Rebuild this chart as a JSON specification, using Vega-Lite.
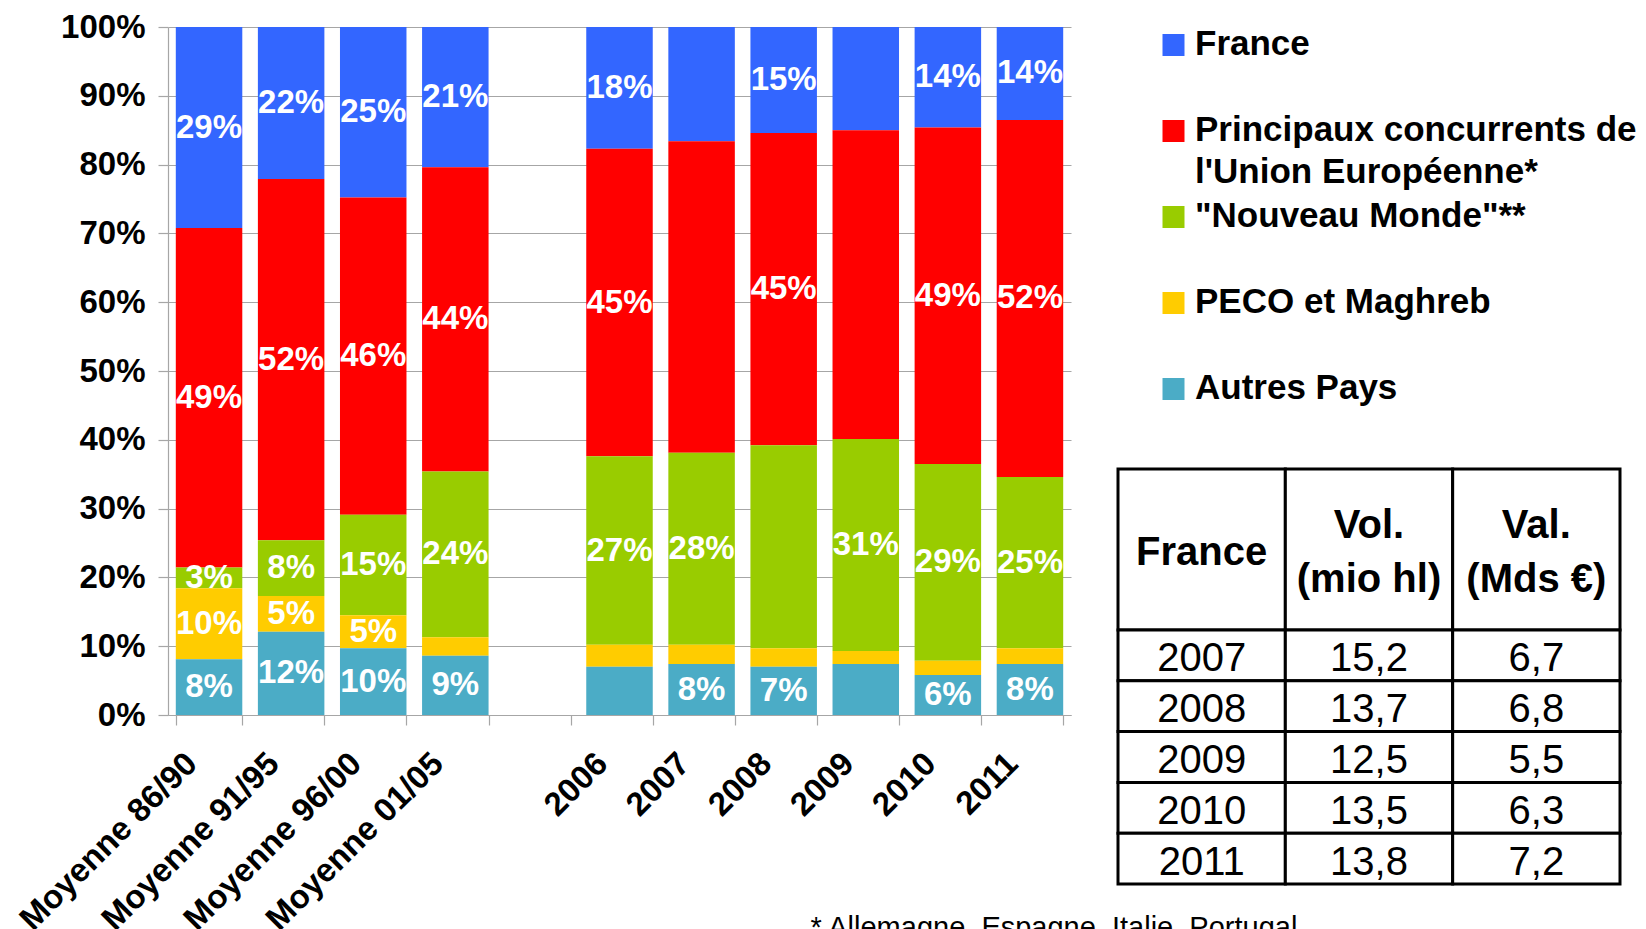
{
  "$schema": "https://vega.github.io/schema/vega-lite/v6.json",
  "padding": {"left": 14, "top": 11, "right": 0, "bottom": 0},
  "background": "white",
  "config": {
    "font": "Liberation Sans",
    "view": {"stroke": null},
    "locale": {"number": {"decimal": ",", "thousands": " ", "grouping": [3], "currency": ["", " €"]}}
  },
  "datasets": {
    "parts": [
      {"periode": "Moyenne 86/90", "serie": "France", "part": 0.292, "etiquette": 0.29},
      {"periode": "Moyenne 86/90", "serie": "Principaux concurrents de l'Union Européenne*", "part": 0.493, "etiquette": 0.49},
      {"periode": "Moyenne 86/90", "serie": "\"Nouveau Monde\"**", "part": 0.030, "etiquette": 0.03},
      {"periode": "Moyenne 86/90", "serie": "PECO et Maghreb", "part": 0.103, "etiquette": 0.10},
      {"periode": "Moyenne 86/90", "serie": "Autres Pays", "part": 0.081, "etiquette": 0.08},
      {"periode": "Moyenne 91/95", "serie": "France", "part": 0.221, "etiquette": 0.22},
      {"periode": "Moyenne 91/95", "serie": "Principaux concurrents de l'Union Européenne*", "part": 0.525, "etiquette": 0.52},
      {"periode": "Moyenne 91/95", "serie": "\"Nouveau Monde\"**", "part": 0.081, "etiquette": 0.08},
      {"periode": "Moyenne 91/95", "serie": "PECO et Maghreb", "part": 0.052, "etiquette": 0.05},
      {"periode": "Moyenne 91/95", "serie": "Autres Pays", "part": 0.121, "etiquette": 0.12},
      {"periode": "Moyenne 96/00", "serie": "France", "part": 0.248, "etiquette": 0.25},
      {"periode": "Moyenne 96/00", "serie": "Principaux concurrents de l'Union Européenne*", "part": 0.461, "etiquette": 0.46},
      {"periode": "Moyenne 96/00", "serie": "\"Nouveau Monde\"**", "part": 0.146, "etiquette": 0.15},
      {"periode": "Moyenne 96/00", "serie": "PECO et Maghreb", "part": 0.048, "etiquette": 0.05},
      {"periode": "Moyenne 96/00", "serie": "Autres Pays", "part": 0.097, "etiquette": 0.10},
      {"periode": "Moyenne 01/05", "serie": "France", "part": 0.204, "etiquette": 0.21},
      {"periode": "Moyenne 01/05", "serie": "Principaux concurrents de l'Union Européenne*", "part": 0.442, "etiquette": 0.44},
      {"periode": "Moyenne 01/05", "serie": "\"Nouveau Monde\"**", "part": 0.241, "etiquette": 0.24},
      {"periode": "Moyenne 01/05", "serie": "PECO et Maghreb", "part": 0.027, "etiquette": null},
      {"periode": "Moyenne 01/05", "serie": "Autres Pays", "part": 0.086, "etiquette": 0.09},
      {"periode": "2006", "serie": "France", "part": 0.177, "etiquette": 0.18},
      {"periode": "2006", "serie": "Principaux concurrents de l'Union Européenne*", "part": 0.447, "etiquette": 0.45},
      {"periode": "2006", "serie": "\"Nouveau Monde\"**", "part": 0.274, "etiquette": 0.27},
      {"periode": "2006", "serie": "PECO et Maghreb", "part": 0.032, "etiquette": null},
      {"periode": "2006", "serie": "Autres Pays", "part": 0.070, "etiquette": null},
      {"periode": "2007", "serie": "France", "part": 0.166, "etiquette": null},
      {"periode": "2007", "serie": "Principaux concurrents de l'Union Européenne*", "part": 0.453, "etiquette": null},
      {"periode": "2007", "serie": "\"Nouveau Monde\"**", "part": 0.279, "etiquette": 0.28},
      {"periode": "2007", "serie": "PECO et Maghreb", "part": 0.028, "etiquette": null},
      {"periode": "2007", "serie": "Autres Pays", "part": 0.074, "etiquette": 0.08},
      {"periode": "2008", "serie": "France", "part": 0.154, "etiquette": 0.15},
      {"periode": "2008", "serie": "Principaux concurrents de l'Union Européenne*", "part": 0.454, "etiquette": 0.45},
      {"periode": "2008", "serie": "\"Nouveau Monde\"**", "part": 0.295, "etiquette": null},
      {"periode": "2008", "serie": "PECO et Maghreb", "part": 0.027, "etiquette": null},
      {"periode": "2008", "serie": "Autres Pays", "part": 0.070, "etiquette": 0.07},
      {"periode": "2009", "serie": "France", "part": 0.150, "etiquette": null},
      {"periode": "2009", "serie": "Principaux concurrents de l'Union Européenne*", "part": 0.449, "etiquette": null},
      {"periode": "2009", "serie": "\"Nouveau Monde\"**", "part": 0.308, "etiquette": 0.31},
      {"periode": "2009", "serie": "PECO et Maghreb", "part": 0.019, "etiquette": null},
      {"periode": "2009", "serie": "Autres Pays", "part": 0.074, "etiquette": null},
      {"periode": "2010", "serie": "France", "part": 0.146, "etiquette": 0.14},
      {"periode": "2010", "serie": "Principaux concurrents de l'Union Européenne*", "part": 0.489, "etiquette": 0.49},
      {"periode": "2010", "serie": "\"Nouveau Monde\"**", "part": 0.286, "etiquette": 0.29},
      {"periode": "2010", "serie": "PECO et Maghreb", "part": 0.021, "etiquette": null},
      {"periode": "2010", "serie": "Autres Pays", "part": 0.058, "etiquette": 0.06},
      {"periode": "2011", "serie": "France", "part": 0.135, "etiquette": 0.14},
      {"periode": "2011", "serie": "Principaux concurrents de l'Union Européenne*", "part": 0.519, "etiquette": 0.52},
      {"periode": "2011", "serie": "\"Nouveau Monde\"**", "part": 0.249, "etiquette": 0.25},
      {"periode": "2011", "serie": "PECO et Maghreb", "part": 0.023, "etiquette": null},
      {"periode": "2011", "serie": "Autres Pays", "part": 0.074, "etiquette": 0.08}
    ],
    "legende": [
      {"serie": "France", "libelle": "France", "ordre": 5},
      {"serie": "Principaux concurrents de l'Union Européenne*", "libelle": "Principaux concurrents de\nl'Union Européenne*", "ordre": 4},
      {"serie": "\"Nouveau Monde\"**", "libelle": "\"Nouveau Monde\"**", "ordre": 3},
      {"serie": "PECO et Maghreb", "libelle": "PECO et Maghreb", "ordre": 2},
      {"serie": "Autres Pays", "libelle": "Autres Pays", "ordre": 1}
    ],
    "entetes": [
      {"entete": "France"},
      {"entete": "Vol.\n(mio hl)"},
      {"entete": "Val.\n(Mds €)"}
    ],
    "tableau": [
      {"annee": 2007, "volume": 15.2, "valeur": 6.7},
      {"annee": 2008, "volume": 13.7, "valeur": 6.8},
      {"annee": 2009, "volume": 12.5, "valeur": 5.5},
      {"annee": 2010, "volume": 13.5, "valeur": 6.3},
      {"annee": 2011, "volume": 13.8, "valeur": 7.2}
    ]
  },
  "bounds": "flush",
  "spacing": 47,
  "hconcat": [
    {
      "width": 903,
      "height": 688,
      "data": {"name": "parts"},
      "transform": [
        {"lookup": "serie", "from": {"data": {"name": "legende"}, "key": "serie", "fields": ["ordre"]}}
      ],
      "encoding": {
        "x": {
          "field": "periode", "type": "nominal",
          "scale": {"domain": ["Moyenne 86/90", "Moyenne 91/95", "Moyenne 96/00", "Moyenne 01/05", " ", "2006", "2007", "2008", "2009", "2010", "2011"], "paddingInner": 0.19, "paddingOuter": 0.095},
          "axis": {"title": null, "labelAngle": -45, "labelAlign": "right", "labelBaseline": "top", "labelFontSize": 33, "labelFontWeight": "bold", "labelColor": "black", "labelPadding": 22, "labelOffset": -29, "labelLimit": 500, "labelOverlap": false, "tickBand": "extent", "tickSize": 10, "tickColor": "#A6A6A6", "tickWidth": 1.2, "domainColor": "#A6A6A6", "domainWidth": 1.2, "grid": false}
        },
        "color": {
          "field": "serie", "type": "nominal",
          "scale": {"domain": ["France", "Principaux concurrents de l'Union Européenne*", "\"Nouveau Monde\"**", "PECO et Maghreb", "Autres Pays"], "range": ["#3366FF", "#FF0000", "#99CC00", "#FFCC00", "#4BACC6"]},
          "legend": null
        },
        "order": {"field": "ordre", "type": "quantitative", "sort": "ascending"}
      },
      "layer": [
        {
          "mark": {"type": "bar"},
          "encoding": {
            "y": {
              "field": "part", "type": "quantitative", "stack": "normalize",
              "scale": {"domain": [0, 1], "nice": false},
              "axis": {"title": null, "format": ".0%", "values": [0, 0.1, 0.2, 0.3, 0.4, 0.5, 0.6, 0.7, 0.8, 0.9, 1], "labelFontSize": 33, "labelFontWeight": "bold", "labelColor": "black", "labelPadding": 13, "tickSize": 10, "tickColor": "#A6A6A6", "tickWidth": 1.2, "domainColor": "#A6A6A6", "domainWidth": 1.2, "grid": true, "gridColor": "#A6A6A6", "gridWidth": 1.2}
            }
          }
        },
        {
          "mark": {"type": "text", "fontSize": 33, "fontWeight": "bold", "align": "center", "baseline": "middle"},
          "encoding": {
            "y": {"field": "part", "type": "quantitative", "stack": "normalize", "bandPosition": 0.5},
            "text": {"field": "etiquette", "type": "quantitative", "format": ".0%"},
            "fill": {"value": "white"},
            "opacity": {"condition": {"test": "datum.etiquette == null", "value": 0}, "value": 1}
          }
        }
      ]
    },
    {
      "bounds": "flush",
      "spacing": 62,
      "vconcat": [
        {
          "width": 111,
          "height": 380,
          "data": {"name": "legende"},
          "encoding": {
            "y": {"field": "serie", "type": "nominal", "sort": null, "scale": {"type": "point", "padding": 0.209}, "axis": null}
          },
          "layer": [
            {
              "mark": {"type": "square", "size": 484, "opacity": 1},
              "encoding": {
                "color": {
                  "field": "serie", "type": "nominal",
                  "scale": {"domain": ["France", "Principaux concurrents de l'Union Européenne*", "\"Nouveau Monde\"**", "PECO et Maghreb", "Autres Pays"], "range": ["#3366FF", "#FF0000", "#99CC00", "#FFCC00", "#4BACC6"]},
                  "legend": null
                }
              }
            },
            {
              "mark": {"type": "text", "align": "left", "baseline": "top", "dx": 21.5, "dy": -18, "fontSize": 35, "fontWeight": "bold", "lineBreak": "\n", "lineHeight": 42, "color": "black"},
              "encoding": {"text": {"field": "libelle", "type": "nominal"}}
            }
          ]
        },
        {
          "bounds": "flush",
          "spacing": 0,
          "vconcat": [
            {
              "width": 502,
              "height": 161,
              "data": {"name": "entetes"},
              "encoding": {
                "x": {"field": "entete", "type": "nominal", "sort": null, "scale": {"paddingInner": 0, "paddingOuter": 0}, "axis": null}
              },
              "layer": [
                {"mark": {"type": "rect", "fill": "white", "stroke": "black", "strokeWidth": 3}},
                {
                  "transform": [{"filter": "indexof(datum.entete, '\\n') < 0"}],
                  "mark": {"type": "text", "fontSize": 40, "fontWeight": "bold", "baseline": "middle", "align": "center", "dy": 3, "color": "black"},
                  "encoding": {"text": {"field": "entete", "type": "nominal"}}
                },
                {
                  "transform": [{"filter": "indexof(datum.entete, '\\n') >= 0"}],
                  "mark": {"type": "text", "fontSize": 40, "fontWeight": "bold", "lineBreak": "\n", "lineHeight": 54, "baseline": "middle", "align": "center", "dy": -24, "color": "black"},
                  "encoding": {"text": {"field": "entete", "type": "nominal"}}
                }
              ]
            },
            {
              "width": 502,
              "height": 254,
              "data": {"name": "tableau"},
              "transform": [{"fold": ["annee", "volume", "valeur"], "as": ["colonne", "cellule"]}],
              "title": {"text": "* Allemagne, Espagne, Italie, Portugal", "orient": "bottom", "anchor": "start", "fontSize": 29, "fontWeight": "normal", "color": "black", "dx": -306, "offset": 28, "baseline": "top"},
              "encoding": {
                "x": {"field": "colonne", "type": "nominal", "scale": {"domain": ["annee", "volume", "valeur"], "paddingInner": 0, "paddingOuter": 0}, "axis": null},
                "y": {"field": "annee", "type": "ordinal", "scale": {"paddingInner": 0, "paddingOuter": 0}, "axis": null}
              },
              "layer": [
                {"mark": {"type": "rect", "fill": "white", "stroke": "black", "strokeWidth": 3}},
                {
                  "transform": [{"filter": "datum.colonne === 'annee'"}],
                  "mark": {"type": "text", "fontSize": 40, "baseline": "middle", "align": "center", "dy": 4, "color": "black"},
                  "encoding": {"text": {"field": "cellule", "type": "quantitative", "format": "d"}}
                },
                {
                  "transform": [{"filter": "datum.colonne !== 'annee'"}],
                  "mark": {"type": "text", "fontSize": 40, "baseline": "middle", "align": "center", "dy": 4, "color": "black"},
                  "encoding": {"text": {"field": "cellule", "type": "quantitative", "format": ".1f"}}
                }
              ]
            }
          ]
        }
      ]
    }
  ]
}
